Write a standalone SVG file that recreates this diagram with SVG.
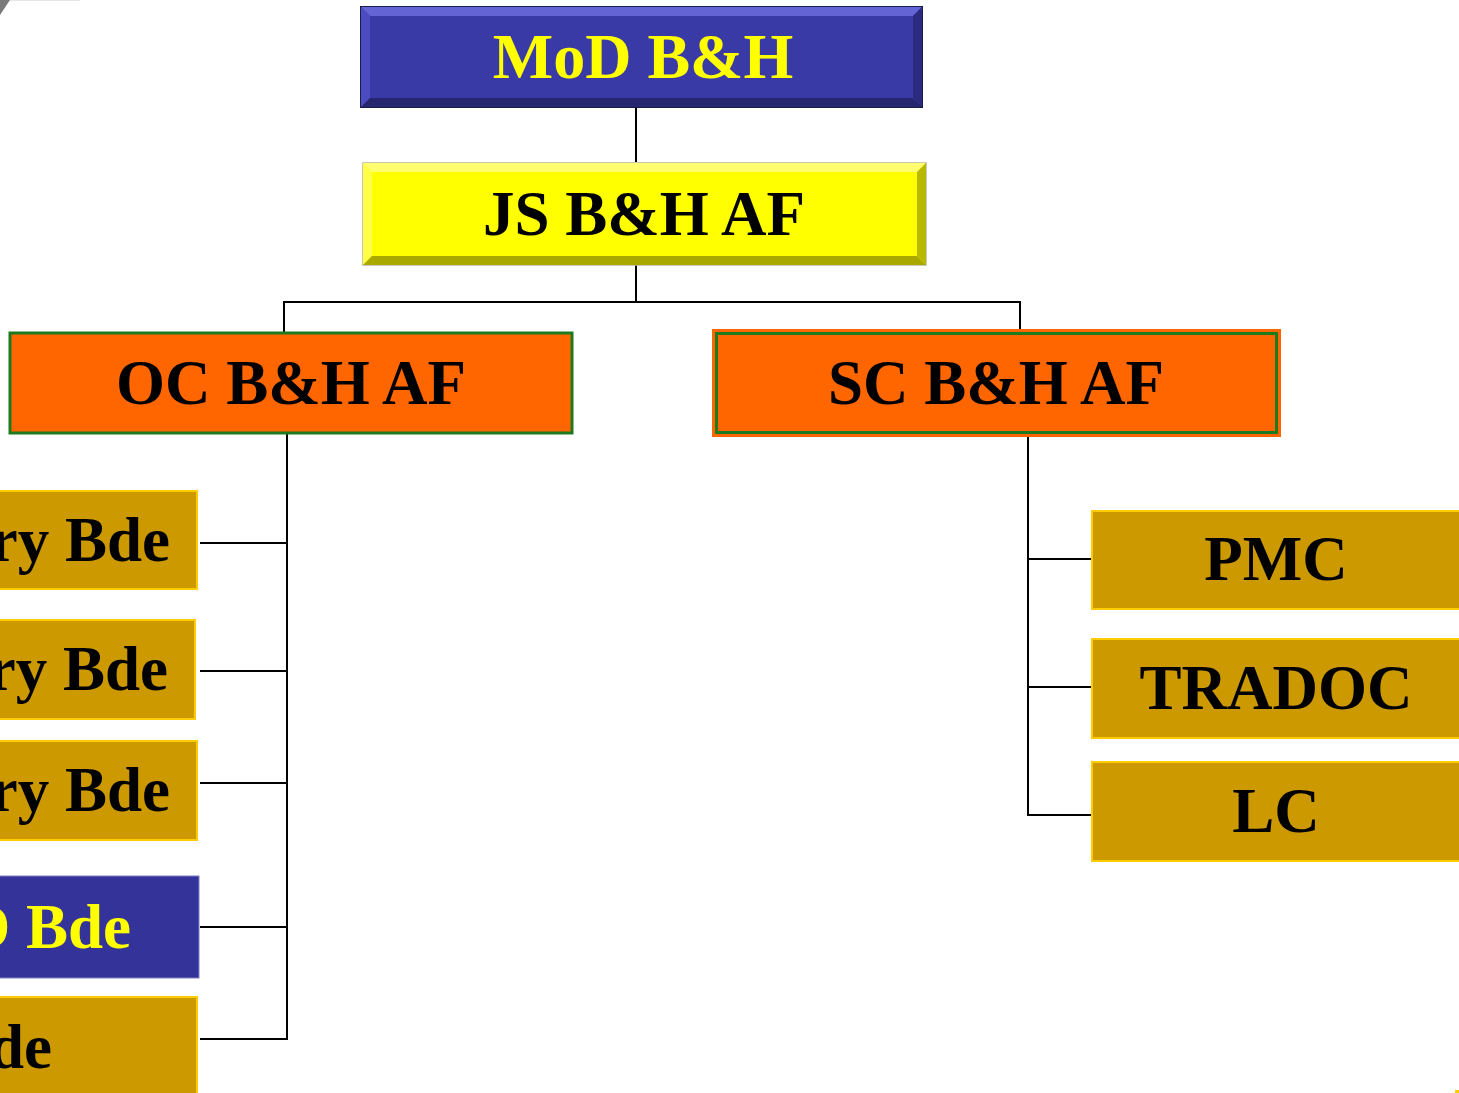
<svg xmlns="http://www.w3.org/2000/svg" width="1459" height="1093" viewBox="0 0 1459 1093">
<style>
.t{font-family:"Liberation Serif","Times New Roman",serif;font-weight:bold;font-size:63px;text-anchor:middle}
.e{text-anchor:end}
.blk{fill:#000}
.yel{fill:#ffff00}
.gold{fill:#cc9900;stroke:#ffcc00;stroke-width:2}
.orange{fill:#ff6600}
.conn line{stroke:#000;stroke-width:2}
</style>
<rect width="1459" height="1093" fill="#ffffff"/>
<line x1="0" y1="0.5" x2="80" y2="0.5" stroke="#e6e6e6" stroke-width="1"/>
<polygon points="0,0 10,0 0,15" fill="#7a7a7a"/>
<rect x="1455" y="1090" width="4" height="3" fill="#ffcc00"/>

<g class="conn" id="connectors">
<line x1="636" y1="108" x2="636" y2="162"/>
<line x1="636" y1="265" x2="636" y2="302"/>
<line x1="283" y1="302" x2="1021" y2="302"/>
<line x1="284" y1="302" x2="284" y2="332"/>
<line x1="1020" y1="302" x2="1020" y2="329"/>
<line x1="287" y1="434" x2="287" y2="1040"/>
<line x1="200" y1="543" x2="287" y2="543"/>
<line x1="200" y1="671" x2="287" y2="671"/>
<line x1="200" y1="783" x2="287" y2="783"/>
<line x1="200" y1="927" x2="287" y2="927"/>
<line x1="200" y1="1039" x2="288" y2="1039"/>
<line x1="1028" y1="437" x2="1028" y2="816"/>
<line x1="1028" y1="559" x2="1091" y2="559"/>
<line x1="1028" y1="687" x2="1091" y2="687"/>
<line x1="1027" y1="815" x2="1091" y2="815"/>
</g>

<g id="mod">
<rect x="361" y="7" width="561" height="100" fill="#3a3aa6" stroke="#1c1c48" stroke-width="2"/>
<polygon points="361,7 922,7 913,16 370,16" fill="#6464d4"/>
<polygon points="361,7 370,16 370,98 361,107" fill="#4c4cc2"/>
<polygon points="922,7 922,107 913,98 913,16" fill="#2a2a80"/>
<polygon points="361,107 922,107 913,98 370,98" fill="#26266e"/>
<rect x="370" y="16" width="543" height="82" fill="#3a3aa6"/>
<text class="t yel" x="643" y="78" style="font-size:64px">MoD B&amp;H</text>
</g>

<g id="js">
<rect x="363" y="163" width="563" height="102" fill="#ffff00" stroke="#b8b8a0" stroke-width="1.5"/>
<polygon points="363,163 926,163 917,172 372,172" fill="#ffff70"/>
<polygon points="363,163 372,172 372,256 363,265" fill="#ffff45"/>
<polygon points="926,163 926,265 917,256 917,172" fill="#b8b800"/>
<polygon points="363,265 926,265 917,256 372,256" fill="#a8a800"/>
<rect x="372" y="172" width="545" height="84" fill="#ffff00"/>
<text class="t blk" x="644" y="235">JS B&amp;H AF</text>
</g>

<g id="oc">
<rect x="10" y="333" width="562" height="100" class="orange" stroke="#1e7a1e" stroke-width="3"/>
<text class="t blk" x="291" y="404">OC B&amp;H AF</text>
</g>

<g id="sc">
<rect x="713" y="330" width="567" height="106" class="orange" stroke="#ff6600" stroke-width="2"/>
<rect x="716.5" y="333.5" width="560" height="99" fill="none" stroke="#1e7a1e" stroke-width="3"/>
<text class="t blk" x="996" y="404">SC B&amp;H AF</text>
</g>

<g id="bde1">
<rect x="-200" y="491" width="397" height="98" class="gold"/>
<text class="t blk e" x="170" y="561">ry Bde</text>
</g>
<g id="bde2">
<rect x="-200" y="620" width="395" height="99" class="gold"/>
<text class="t blk e" x="168" y="690">ry Bde</text>
</g>
<g id="bde3">
<rect x="-200" y="741" width="397" height="99" class="gold"/>
<text class="t blk e" x="170" y="811">ry Bde</text>
</g>
<g id="bde4">
<rect x="-200" y="876" width="399" height="102" fill="#333399" stroke="#8080c0" stroke-width="1"/>
<text class="t yel e" x="131" y="948">D Bde</text>
</g>
<g id="bde5">
<rect x="-200" y="997" width="397" height="110" class="gold"/>
<text class="t blk e" x="52" y="1068">de</text>
</g>

<g id="pmc">
<rect x="1092" y="511" width="380" height="98" class="gold"/>
<text class="t blk" x="1276" y="580">PMC</text>
</g>
<g id="tradoc">
<rect x="1092" y="639" width="380" height="99" class="gold"/>
<text class="t blk" x="1276" y="709">TRADOC</text>
</g>
<g id="lc">
<rect x="1092" y="762" width="380" height="99" class="gold"/>
<text class="t blk" x="1276" y="832">LC</text>
</g>
</svg>
